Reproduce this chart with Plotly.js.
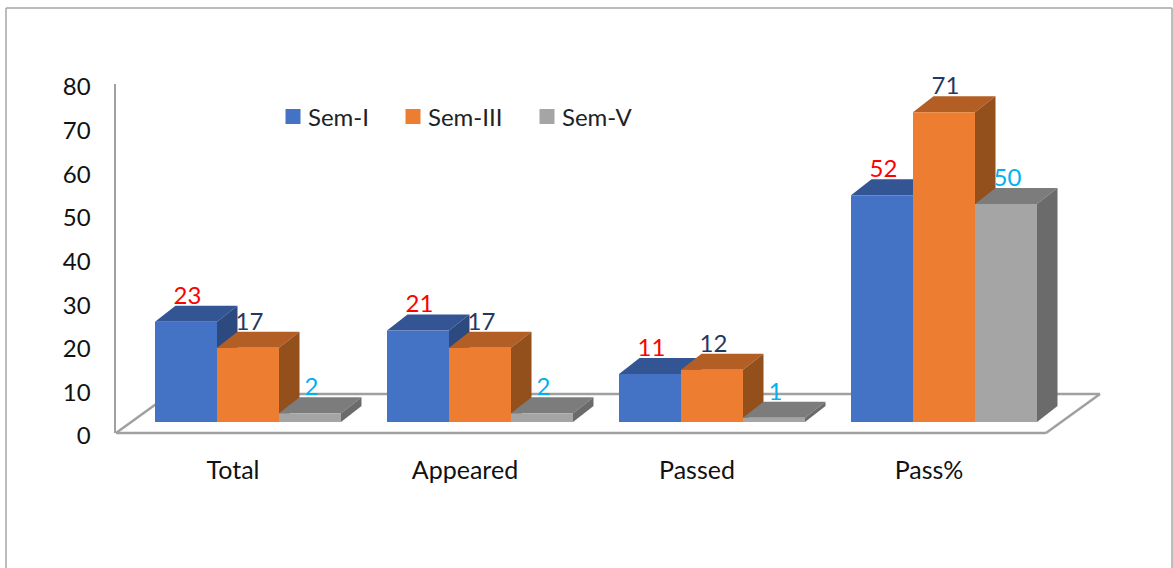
<!DOCTYPE html>
<html>
<head>
<meta charset="utf-8">
<script src="https://cdn.plot.ly/plotly-3.0.1.min.js"></script>
<style>html,body{margin:0;padding:0;background:#fff}#c{width:1173px;height:568px}.legendpoints{translate:5px 0}</style>
</head>
<body>
<div id="c"></div>
<script>
const categories = ["Total", "Appeared", "Passed", "Pass%"];
const seriesNames = ["Sem-I", "Sem-III", "Sem-V"];
const semI = [23, 21, 11, 52];
const semIII = [17, 17, 12, 71];
const semV = [2, 2, 1, 50];
const frontColors = ["#4472c4", "#ed7d31", "#a5a5a5"];
const topColors = ["#335593", "#b25e24", "#7c7c7c"];
const sideColors = ["#2c4a80", "#934f1c", "#6b6b6b"];
const labelColors = ["#ff0000", "#1f3864", "#00b0f0"];
const allValues = [semI, semIII, semV];

// pixel geometry of the pseudo-3D frame
const W = 1173, H = 568, L = 116, T = 84, B = 433, R = 1105;
const pxPerCat = 232, pxPerUnit = (B - T) / 80;
const xMax = -0.5 + (R - L) / pxPerCat;
const bw = 62 / pxPerCat, shift = 16 / pxPerCat;
const depthX = 20.5 / pxPerCat, depthY = 16 / pxPerUnit, base = 11 / pxPerUnit;
const font = "Lato, Carlito, sans-serif";

const traces = [];
// top and side faces, left to right
categories.forEach((c, i) => {
  allValues.forEach((vals, s) => {
    const x0 = i + shift + bw * (s - 1.5), x1 = x0 + bw, top = vals[i] + base;
    traces.push({
      x: [x0, x1, x1 + depthX, x0 + depthX, x0], y: [top, top, top + depthY, top + depthY, top],
      mode: "lines", fill: "toself", fillcolor: topColors[s], line: {width: 0},
      showlegend: false, hoverinfo: "skip"
    });
    traces.push({
      x: [x1, x1 + depthX, x1 + depthX, x1, x1], y: [base, base + depthY, top + depthY, top, base],
      mode: "lines", fill: "toself", fillcolor: sideColors[s], line: {width: 0},
      showlegend: false, hoverinfo: "skip"
    });
  });
});
// front faces on the overlay axes
allValues.forEach((vals, s) => {
  traces.push({
    type: "bar", name: seriesNames[s], x: categories.map((c, i) => i), y: vals,
    base: vals.map(() => base), width: bw, offset: shift + bw * (s - 1.5),
    marker: {color: frontColors[s], line: {width: 0}},
    xaxis: "x2", yaxis: "y2", cliponaxis: false, showlegend: false
  });
});
// value labels
allValues.forEach((vals, s) => {
  traces.push({
    x: categories.map((c, i) => i + shift + bw * (s - 1) + 1.5 / pxPerCat),
    y: vals.map(v => v + base + depthY + 8 / pxPerUnit),
    text: vals.map(String), mode: "text", textposition: "middle center",
    textfont: {family: font, size: 24, color: labelColors[s]},
    xaxis: "x2", yaxis: "y2", showlegend: false, hoverinfo: "skip", cliponaxis: false
  });
});
// legend keys, one legend per series
const legendIds = ["legend", "legend2", "legend3"];
seriesNames.forEach((n, s) => {
  traces.push({
    x: [null], y: [null], mode: "markers", name: n, legend: legendIds[s],
    marker: {symbol: "square", size: 15, color: frontColors[s]}, hoverinfo: "skip"
  });
});

const px = v => (v - L) / (R - L);
const py = v => (B - v) / (B - T);
const frameLine = (x0, y0, x1, y1, color, width) => ({
  type: "line", xref: "paper", yref: "paper", x0: px(x0), y0: py(y0), x1: px(x1), y1: py(y1),
  line: {color, width}, layer: "below"
});
const grey = "#a0a0a0";
const shapes = [
  frameLine(6, 8, 1172, 8, "#a6a6a6", 1.5),
  frameLine(6, 8, 6, 568, "#a6a6a6", 1.5),
  frameLine(1172, 8, 1172, 568, "#a6a6a6", 1.5),
  frameLine(116, 433, 1046, 433, grey, 2.5),
  frameLine(1046, 433, 1100, 394, grey, 2.5),
  frameLine(1100, 394, 170, 394, grey, 2.5),
  frameLine(116, 433, 170, 394, grey, 2.5)
];
const legendAt = xPx => ({
  x: px(xPx), xanchor: "left", y: py(117), yanchor: "middle", indentation: -5,
  font: {family: font, size: 24, color: "#222"}, bgcolor: "rgba(0,0,0,0)", itemwidth: 30
});

const layout = {
  width: W, height: H, autosize: false,
  margin: {l: L, t: T, b: H - B, r: W - R, pad: 0},
  paper_bgcolor: "#fff", plot_bgcolor: "rgba(0,0,0,0)",
  font: {family: font, color: "#000"},
  showlegend: true, shapes,
  barmode: "overlay",
  legend: legendAt(273), legend2: legendAt(393), legend3: legendAt(527),
  xaxis: {
    range: [-0.5, xMax], tickmode: "array", tickvals: categories.map((c, i) => i), ticktext: categories,
    showgrid: false, zeroline: false, showline: false, ticks: "",
    tickfont: {family: font, size: 25, color: "#111"}, ticklabelstandoff: 20, ticklabelshift: 1, fixedrange: true
  },
  yaxis: {
    range: [0, 80], tickmode: "linear", tick0: 0, dtick: 10,
    showgrid: false, zeroline: false, showline: true, linecolor: grey, linewidth: 2.5, ticks: "",
    tickfont: {family: font, size: 24, color: "#111"}, ticklabelstandoff: 18, ticklabelshift: 3, fixedrange: true
  },
  xaxis2: {overlaying: "x", matches: "x", visible: false},
  yaxis2: {overlaying: "y", matches: "y", visible: false}
};
Plotly.newPlot("c", traces, layout, {displayModeBar: false, staticPlot: true});
</script>
</body>
</html>
